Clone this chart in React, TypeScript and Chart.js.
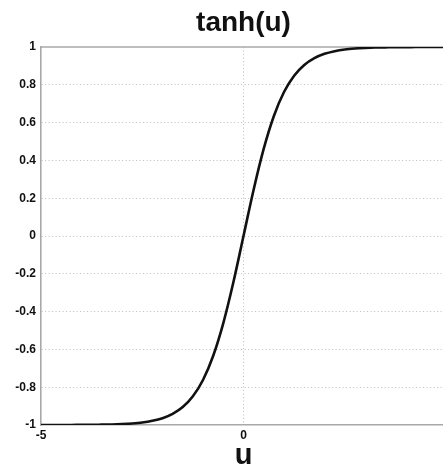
import React, { useEffect, useRef } from "react";
import { Chart, registerables } from "chart.js";

Chart.register(...registerables);

const uValues = [
  -5, -4.75, -4.5, -4.25, -4, -3.75, -3.5, -3.25, -3, -2.75, -2.5, -2.25, -2, -1.75, -1.5, -1.25, -1, -0.75, -0.5, -0.25,
  0, 0.25, 0.5, 0.75, 1, 1.25, 1.5, 1.75, 2, 2.25, 2.5, 2.75, 3, 3.25, 3.5, 3.75, 4, 4.25, 4.5, 4.75, 5,
];
const tanhValues = [
  -1.0, -1.0, -1.0, -1.0, -0.999, -0.999, -0.998, -0.997, -0.995, -0.992, -0.987, -0.978, -0.964, -0.941, -0.905, -0.848, -0.762, -0.635, -0.462, -0.245,
  0, 0.245, 0.462, 0.635, 0.762, 0.848, 0.905, 0.941, 0.964, 0.978, 0.987, 0.992, 0.995, 0.997, 0.998, 0.999, 0.999, 1.0, 1.0, 1.0, 1.0,
];
const xTicks = [-5, 0, 5];
const yTicks = [-1, -0.8, -0.6, -0.4, -0.2, 0, 0.2, 0.4, 0.6, 0.8, 1];
const titleText = "tanh(u)";
const xLabel = "u";

const FONT = "'Liberation Sans', Arial, sans-serif";

const frame = {
  id: "frame",
  beforeDatasetsDraw(chart: any) {
    const { ctx, chartArea } = chart;
    ctx.save();
    ctx.strokeStyle = "#a8a8a8";
    ctx.lineWidth = 1.6;
    ctx.beginPath();
    ctx.moveTo(chartArea.left, chartArea.top);
    ctx.lineTo(chartArea.right, chartArea.top);
    ctx.stroke();
    ctx.restore();
  },
};

export default function App() {
  const ref = useRef<HTMLCanvasElement | null>(null);
  useEffect(() => {
    if (!ref.current) return;
    const chart = new Chart(ref.current, {
      type: "line",
      data: {
        datasets: [
          {
            data: uValues.map((u, i) => ({ x: u, y: tanhValues[i] })),
            borderColor: "#111111",
            borderWidth: 2.6,
            pointRadius: 0,
            cubicInterpolationMode: "monotone",
            fill: false,
          },
        ],
      },
      plugins: [frame],
      options: {
        animation: false,
        responsive: false,
        layout: { padding: { right: 14, left: 0, top: 0, bottom: 0 } },
        plugins: {
          legend: { display: false },
          tooltip: { enabled: false },
          title: {
            display: true,
            text: titleText,
            fullSize: false,
            color: "#111",
            font: { family: FONT, size: 28, weight: "bold", lineHeight: 1.2 },
            padding: { top: 6, bottom: 7.4 },
          },
        },
        scales: {
          x: {
            type: "linear",
            min: -5,
            max: 5,
            afterBuildTicks: (s: any) => {
              s.ticks = xTicks.map((v) => ({ value: v }));
            },
            afterFit: (s: any) => {
              s.height = 45;
            },
            ticks: {
              color: "#111",
              font: { family: FONT, size: 12, weight: "bold" },
              padding: 3,
              maxRotation: 0,
              callback: (v: any) => String(v),
            },
            grid: {
              drawTicks: false,
              color: (c: any) => (c.tick && c.tick.value === 0 ? "#bdbdbd" : "rgba(0,0,0,0)"),
              lineWidth: 1,
            },
            border: { display: true, color: "#a8a8a8", width: 1.6, dash: [1, 2.5] },
            title: {
              display: true,
              text: xLabel,
              color: "#111",
              font: { family: FONT, size: 29, weight: "bold", lineHeight: 1 },
              padding: { top: 0, bottom: 0 },
            },
          },
          y: {
            type: "linear",
            min: -1,
            max: 1,
            afterBuildTicks: (s: any) => {
              s.ticks = yTicks.map((v) => ({ value: v }));
            },
            afterFit: (s: any) => {
              s.width = 41;
            },
            ticks: {
              color: "#111",
              font: { family: FONT, size: 12, weight: "bold" },
              padding: 5,
              callback: (v: any) => String(Math.round(v * 10) / 10),
            },
            grid: {
              drawTicks: false,
              color: (c: any) =>
                c.tick && (c.tick.value === 1 || c.tick.value === -1) ? "rgba(0,0,0,0)" : "#bdbdbd",
              lineWidth: 1,
            },
            border: { display: true, color: "#a8a8a8", width: 1.6, dash: [1, 2.5] },
          },
        },
      } as any,
    });
    return () => chart.destroy();
  }, []);
  return (
    <div style={{ position: "fixed", left: 0, top: 0, width: 443, height: 470, overflow: "hidden", background: "#fff" }}>
      <canvas ref={ref} width={460} height={470} style={{ display: "block" }} />
    </div>
  );
}
